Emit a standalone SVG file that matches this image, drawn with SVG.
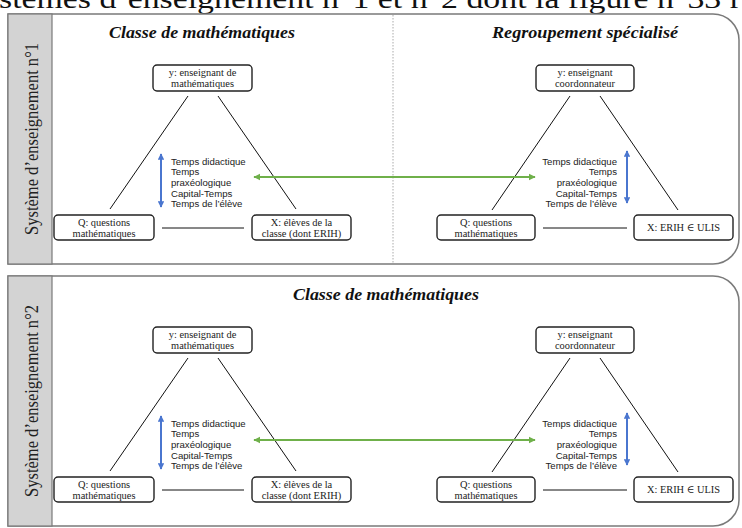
<svg xmlns="http://www.w3.org/2000/svg" width="742" height="528" viewBox="0 0 742 528">
<style>
.panel{fill:#fff;stroke:#7a7a7a;stroke-width:1.5}
.strip{fill:#d3d3d3;stroke:#7a7a7a;stroke-width:1.2}
.side{font-family:"Liberation Serif","DejaVu Serif",serif;font-size:18px;fill:#222}
.title{font-family:"Liberation Serif","DejaVu Serif",serif;font-size:17px;font-weight:bold;font-style:italic;fill:#111}
.box{fill:#fff;stroke:#222;stroke-width:1.4}
.nl{font-family:"Liberation Serif","DejaVu Serif",serif;font-size:10.4px;fill:#222;text-anchor:middle}
.tl{font-family:"Liberation Sans",Arial,sans-serif;font-size:9.6px;fill:#222}
.edge{stroke:#111;stroke-width:1;fill:none}
.blue{stroke:#4a76cf;stroke-width:2;fill:none}
.green{stroke:#6fb04a;stroke-width:2;fill:none}
.top{font-family:"Liberation Serif","DejaVu Serif",serif;font-size:28px;fill:#111}
</style>
<defs>
<marker id="ab" viewBox="0 0 10 10" refX="9" refY="5" markerWidth="3.2" markerHeight="3.2" orient="auto-start-reverse"><path d="M0,0 L10,5 L0,10 Z" fill="#4a76cf"/></marker>
<marker id="ag" viewBox="0 0 10 10" refX="9" refY="5" markerWidth="3.6" markerHeight="3.6" orient="auto-start-reverse"><path d="M0,0 L10,5 L0,10 Z" fill="#6fb04a"/></marker>
</defs>
<rect width="742" height="528" fill="#fff"/>
<text class="top" x="-1" y="8" textLength="742" lengthAdjust="spacingAndGlyphs">stèmes d’enseignement n°1 et n°2 dont la figure n°33 r</text>

<g id="panel1">
<path class="panel" d="M8,14 H713 A26,26 0 0 1 739,40 V238 A26,26 0 0 1 713,264 H8 Z"/>
<rect class="strip" x="8" y="14" width="44" height="250"/>
<text class="side" transform="translate(38,139) rotate(-90)" text-anchor="middle" textLength="192" lengthAdjust="spacingAndGlyphs">Système d’enseignement n°1</text>
<line x1="393" y1="15" x2="393" y2="263" stroke="#aaa" stroke-width="1" stroke-dasharray="1.5,1.5"/>
<text class="title" x="202" y="38" text-anchor="middle" textLength="186" lengthAdjust="spacingAndGlyphs">Classe de mathématiques</text>
<text class="title" x="585" y="38" text-anchor="middle" textLength="186" lengthAdjust="spacingAndGlyphs">Regroupement spécialisé</text>
</g>

<g id="panel2">
<path class="panel" d="M8,276 H713 A26,26 0 0 1 739,302 V500 A26,26 0 0 1 713,526 H8 Z"/>
<rect class="strip" x="8" y="276" width="44" height="250"/>
<text class="side" transform="translate(38,401) rotate(-90)" text-anchor="middle" textLength="192" lengthAdjust="spacingAndGlyphs">Système d’enseignement n°2</text>
<text class="title" x="386" y="300" text-anchor="middle" textLength="186" lengthAdjust="spacingAndGlyphs">Classe de mathématiques</text>
</g>

<g id="connectors">
<line class="edge" x1="188" y1="96" x2="110" y2="209"/>
<line class="edge" x1="218" y1="96" x2="296" y2="209"/>
<line class="edge" x1="162" y1="228" x2="244" y2="228"/>
<line class="edge" x1="570" y1="96" x2="492" y2="210"/>
<line class="edge" x1="600" y1="96" x2="678" y2="210"/>
<line class="edge" x1="543" y1="228" x2="627" y2="228"/>
<line class="blue" x1="161" y1="154" x2="161" y2="207" marker-start="url(#ab)" marker-end="url(#ab)"/>
<line class="blue" x1="627" y1="151" x2="627" y2="203" marker-start="url(#ab)" marker-end="url(#ab)"/>
<line class="green" x1="254" y1="177" x2="535" y2="177" marker-start="url(#ag)" marker-end="url(#ag)"/>

<line class="edge" x1="188" y1="358" x2="110" y2="471"/>
<line class="edge" x1="218" y1="358" x2="296" y2="471"/>
<line class="edge" x1="162" y1="490" x2="244" y2="490"/>
<line class="edge" x1="570" y1="358" x2="492" y2="472"/>
<line class="edge" x1="600" y1="358" x2="678" y2="472"/>
<line class="edge" x1="543" y1="490" x2="627" y2="490"/>
<line class="blue" x1="161" y1="416" x2="161" y2="469" marker-start="url(#ab)" marker-end="url(#ab)"/>
<line class="blue" x1="627" y1="413" x2="627" y2="465" marker-start="url(#ab)" marker-end="url(#ab)"/>
<line class="green" x1="254" y1="440" x2="535" y2="440" marker-start="url(#ag)" marker-end="url(#ag)"/>
</g>

<g id="times1l" class="tl">
<text x="171" y="164.5">Temps didactique</text>
<text x="171" y="175.2">Temps</text>
<text x="171" y="185.9">praxéologique</text>
<text x="171" y="196.6">Capital-Temps</text>
<text x="171" y="207.3">Temps de l’élève</text>
</g>
<g id="times1r" class="tl" text-anchor="end">
<text x="617" y="164.5">Temps didactique</text>
<text x="617" y="175.2">Temps</text>
<text x="617" y="185.9">praxéologique</text>
<text x="617" y="196.6">Capital-Temps</text>
<text x="617" y="207.3">Temps de l’élève</text>
</g>
<g id="times2l" class="tl">
<text x="171" y="426.5">Temps didactique</text>
<text x="171" y="437.2">Temps</text>
<text x="171" y="447.9">praxéologique</text>
<text x="171" y="458.6">Capital-Temps</text>
<text x="171" y="469.3">Temps de l’élève</text>
</g>
<g id="times2r" class="tl" text-anchor="end">
<text x="617" y="426.5">Temps didactique</text>
<text x="617" y="437.2">Temps</text>
<text x="617" y="447.9">praxéologique</text>
<text x="617" y="458.6">Capital-Temps</text>
<text x="617" y="469.3">Temps de l’élève</text>
</g>

<g id="n1_y">
<rect class="box" x="153" y="65" width="99" height="26" rx="4"/>
<text class="nl" x="202.5" y="75.5">y: enseignant de</text>
<text class="nl" x="202.5" y="87">mathématiques</text>
</g>
<g id="n1_q">
<rect class="box" x="54" y="215" width="100" height="25" rx="4"/>
<text class="nl" x="104" y="225.5">Q: questions</text>
<text class="nl" x="104" y="237">mathématiques</text>
</g>
<g id="n1_x">
<rect class="box" x="252" y="215" width="99" height="25" rx="4"/>
<text class="nl" x="301.5" y="225.5">X: élèves de la</text>
<text class="nl" x="301.5" y="237">classe (dont ERIH)</text>
</g>
<g id="n1_y2">
<rect class="box" x="536" y="65" width="98" height="26" rx="4"/>
<text class="nl" x="585" y="75.5">y: enseignant</text>
<text class="nl" x="585" y="87">coordonnateur</text>
</g>
<g id="n1_q2">
<rect class="box" x="437" y="215" width="98" height="25" rx="4"/>
<text class="nl" x="486" y="225.5">Q: questions</text>
<text class="nl" x="486" y="237">mathématiques</text>
</g>
<g id="n1_x2">
<rect class="box" x="634" y="215" width="99" height="25" rx="4"/>
<text class="nl" x="683.5" y="231">X: ERIH ∈ ULIS</text>
</g>

<g id="n2_y">
<rect class="box" x="153" y="327" width="99" height="26" rx="4"/>
<text class="nl" x="202.5" y="337.5">y: enseignant de</text>
<text class="nl" x="202.5" y="349">mathématiques</text>
</g>
<g id="n2_q">
<rect class="box" x="54" y="477" width="100" height="25" rx="4"/>
<text class="nl" x="104" y="487.5">Q: questions</text>
<text class="nl" x="104" y="499">mathématiques</text>
</g>
<g id="n2_x">
<rect class="box" x="252" y="477" width="99" height="25" rx="4"/>
<text class="nl" x="301.5" y="487.5">X: élèves de la</text>
<text class="nl" x="301.5" y="499">classe (dont ERIH)</text>
</g>
<g id="n2_y2">
<rect class="box" x="536" y="327" width="98" height="26" rx="4"/>
<text class="nl" x="585" y="337.5">y: enseignant</text>
<text class="nl" x="585" y="349">coordonnateur</text>
</g>
<g id="n2_q2">
<rect class="box" x="437" y="477" width="98" height="25" rx="4"/>
<text class="nl" x="486" y="487.5">Q: questions</text>
<text class="nl" x="486" y="499">mathématiques</text>
</g>
<g id="n2_x2">
<rect class="box" x="634" y="477" width="99" height="25" rx="4"/>
<text class="nl" x="683.5" y="493">X: ERIH ∈ ULIS</text>
</g>
</svg>
